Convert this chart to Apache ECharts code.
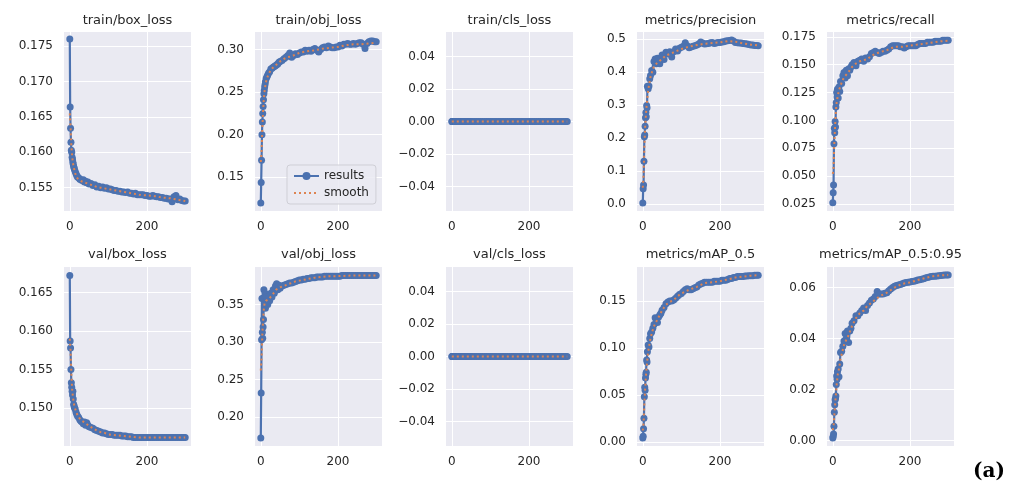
<!DOCTYPE html>
<html><head><meta charset="utf-8">
<script src="https://cdn.jsdelivr.net/npm/echarts@6/dist/echarts.min.js"></script>
<style>html,body{margin:0;padding:0;background:#fff}#c{width:1016px;height:489px}</style>
</head><body><div id="c"></div>
<script>
// ---------- data ----------
const EPOCHS = [0,1,2,3,4,5,6,7,8,9,10,11,12,14,16,18,20,23,26,29,32,35,38,41,44,47,50,55,60,65,70,75,80,85,90,95,100,
 105,110,115,120,125,130,135,140,145,150,155,160,165,170,175,180,185,190,195,200,
 205,210,215,220,225,230,235,240,245,250,255,260,265,270,275,280,285,290,295,299];
const SMOOTH_EPOCHS = [0,2,4,6,8,10,13,16,20,25,30,40,50,60,70,80,90,100,120,140,160,180,200,220,240,260,280,299];

const TRAIN_BOX = [0.1760,0.1664,0.1634,0.1614,0.1603,0.1600,0.1593,0.1590,0.1586,0.1583,0.1580,0.1578,0.1576,
 0.1573,0.1570,0.1567,0.1565,
 0.1564,0.1562,0.1561,0.1560,0.1561,0.1558,0.1559,0.1557,0.1558,0.1555,
 0.1556,0.1553,0.1554,0.1551,0.1552,0.1550,0.1551,0.1549,0.1550,0.1548,
 0.1548,0.1547,0.1546,0.1546,0.1545,0.1545,0.1544,0.1544,0.1543,0.1544,0.1542,0.1542,0.1541,0.1542,0.1540,0.1540,0.1540,0.1540,0.1539,0.1539,
 0.1538,0.1538,0.1539,0.1538,0.1537,0.1537,0.1536,0.1536,0.1535,0.1535,0.1534,0.1534,0.1530,0.1537,0.1539,0.1533,0.1534,0.1532,0.1531,0.1531];
const TRAIN_BOX_SMOOTH = [0.1655,0.1635,0.1610,0.1595,0.1585,0.1580,0.1572,0.1567,0.1563,0.1561,0.1559,0.1557,0.1555,0.1553,0.1551,0.1550,0.1549,0.1548,0.1546,0.1544,0.1542,0.1540,0.1539,0.1538,0.1536,0.1535,0.1533,0.1531];

const TRAIN_OBJ = [0.120,0.144,0.170,0.200,0.215,0.225,0.233,0.241,0.248,0.252,0.256,0.259,0.262,
 0.266,0.268,0.270,0.272,
 0.274,0.277,0.278,0.279,0.280,0.281,0.282,0.283,0.285,0.286,
 0.287,0.289,0.291,0.293,0.296,0.291,0.293,0.295,0.294,0.296,
 0.297,0.297,0.299,0.298,0.299,0.298,0.300,0.301,0.299,0.297,0.300,0.302,0.303,0.302,0.304,0.303,0.302,0.302,0.303,0.303,
 0.305,0.304,0.306,0.306,0.307,0.306,0.306,0.307,0.306,0.307,0.308,0.308,0.306,0.301,0.307,0.309,0.310,0.310,0.309,0.309];
const TRAIN_OBJ_SMOOTH = [0.168,0.180,0.207,0.228,0.243,0.252,0.261,0.266,0.271,0.275,0.278,0.282,0.286,0.289,0.291,0.292,0.294,0.296,0.298,0.299,0.301,0.302,0.303,0.305,0.306,0.306,0.307,0.308];

const TRAIN_CLS = [0,0,0,0,0,0,0,0,0,0,0,0,0,0,0,0,0,0,0,0,0,0,0,0,0,0,0,0,0,0,0,0,0,0,0,0,0,
 0,0,0,0,0,0,0,0,0,0,0,0,0,0,0,0,0,0,0,0,0,0,0,0,0,0,0,0,0,0,0,0,0,0,0,0,0,0,0,0];
const TRAIN_CLS_SMOOTH = [0,0,0,0,0,0,0,0,0,0,0,0,0,0,0,0,0,0,0,0,0,0,0,0,0,0,0,0];

const PRECISION = [0.004,0.047,0.058,0.130,0.204,0.210,0.236,0.262,0.278,0.265,0.299,0.292,0.357,
 0.350,0.358,0.380,0.390,
 0.405,0.400,0.432,0.440,0.425,0.442,0.430,0.425,0.440,0.452,
 0.438,0.460,0.455,0.462,0.446,0.462,0.470,0.464,0.472,0.475,
 0.478,0.489,0.480,0.474,0.476,0.478,0.480,0.482,0.485,0.491,0.488,0.485,0.486,0.487,0.489,0.490,0.487,0.488,0.490,0.490,
 0.491,0.492,0.494,0.495,0.496,0.497,0.494,0.490,0.489,0.488,0.488,0.487,0.486,0.485,0.484,0.482,0.482,0.481,0.481,0.480];
const PRECISION_SMOOTH = [0.050,0.085,0.170,0.230,0.270,0.300,0.335,0.360,0.385,0.405,0.420,0.430,0.440,0.450,0.455,0.460,0.465,0.470,0.477,0.482,0.486,0.488,0.490,0.494,0.492,0.487,0.483,0.481];

const RECALL = [0.026,0.035,0.042,0.079,0.093,0.089,0.099,0.094,0.112,0.116,0.125,0.121,0.128,
 0.120,0.130,0.126,0.135,
 0.133,0.140,0.143,0.138,0.145,0.140,0.146,0.145,0.148,0.150,
 0.152,0.149,0.153,0.154,0.155,0.153,0.156,0.155,0.157,0.160,
 0.161,0.162,0.161,0.160,0.161,0.162,0.162,0.163,0.164,0.166,0.167,0.167,0.167,0.167,0.166,0.166,0.165,0.166,0.167,0.167,
 0.167,0.167,0.167,0.168,0.169,0.169,0.169,0.169,0.170,0.170,0.170,0.170,0.171,0.171,0.171,0.171,0.172,0.172,0.172,0.172];
const RECALL_SMOOTH = [0.052,0.057,0.080,0.095,0.108,0.116,0.122,0.127,0.131,0.136,0.139,0.143,0.148,0.151,0.153,0.154,0.155,0.158,0.161,0.163,0.166,0.166,0.167,0.168,0.169,0.170,0.171,0.1715];

const VAL_BOX = [0.1672,0.1587,0.1578,0.1550,0.1533,0.1527,0.1522,0.1517,0.1522,0.1512,0.1505,0.1503,0.1501,
 0.1499,0.1495,0.1492,0.1490,
 0.1488,0.1485,0.1483,0.1482,0.1480,0.1482,0.1478,0.1481,0.1478,0.1476,
 0.1475,0.1474,0.1472,0.1471,0.1470,0.1469,0.1468,0.1468,0.1467,0.1466,
 0.1466,0.1466,0.1465,0.1465,0.1465,0.1465,0.1464,0.1464,0.1464,0.1463,0.1463,0.1463,0.1462,0.1462,0.1462,0.1462,0.1462,0.1462,0.1462,0.1462,
 0.1462,0.1462,0.1462,0.1462,0.1462,0.1462,0.1462,0.1462,0.1462,0.1462,0.1462,0.1462,0.1462,0.1462,0.1462,0.1462,0.1462,0.1462,0.1462,0.1462];
const VAL_BOX_SMOOTH = [0.1590,0.1575,0.1545,0.1525,0.1515,0.1507,0.1501,0.1496,0.1491,0.1487,0.1484,0.1481,0.1477,0.1474,0.1471,0.1469,0.1468,0.1466,0.1465,0.1464,0.1463,0.1462,0.1462,0.1462,0.1462,0.1462,0.1462,0.1462];

const VAL_OBJ = [0.172,0.232,0.303,0.358,0.313,0.305,0.320,0.330,0.370,0.360,0.350,0.365,0.345,
 0.360,0.355,0.350,0.360,
 0.355,0.365,0.360,0.370,0.365,0.375,0.378,0.370,0.376,0.372,
 0.375,0.376,0.377,0.378,0.379,0.379,0.380,0.381,0.382,0.383,
 0.383,0.384,0.384,0.385,0.385,0.386,0.386,0.386,0.387,0.387,0.387,0.387,0.388,0.388,0.388,0.388,0.388,0.388,0.388,0.388,
 0.388,0.389,0.389,0.389,0.389,0.389,0.389,0.389,0.389,0.389,0.389,0.389,0.389,0.389,0.389,0.389,0.389,0.389,0.389,0.389];
const VAL_OBJ_SMOOTH = [0.262,0.280,0.310,0.330,0.345,0.352,0.355,0.356,0.357,0.360,0.363,0.370,0.373,0.375,0.377,0.379,0.381,0.382,0.384,0.386,0.387,0.388,0.388,0.3885,0.389,0.389,0.389,0.389];

const VAL_CLS = [0,0,0,0,0,0,0,0,0,0,0,0,0,0,0,0,0,0,0,0,0,0,0,0,0,0,0,0,0,0,0,0,0,0,0,0,0,
 0,0,0,0,0,0,0,0,0,0,0,0,0,0,0,0,0,0,0,0,0,0,0,0,0,0,0,0,0,0,0,0,0,0,0,0,0,0,0,0];
const VAL_CLS_SMOOTH = [0,0,0,0,0,0,0,0,0,0,0,0,0,0,0,0,0,0,0,0,0,0,0,0,0,0,0,0];

const MAP50 = [0.004,0.006,0.014,0.025,0.048,0.058,0.055,0.068,0.072,0.074,0.087,0.085,0.096,
 0.103,0.101,0.110,0.115,
 0.117,0.121,0.125,0.132,0.130,0.127,0.133,0.135,0.137,0.140,
 0.143,0.147,0.149,0.150,0.150,0.151,0.153,0.155,0.157,0.158,
 0.160,0.162,0.163,0.162,0.162,0.163,0.164,0.165,0.167,0.168,0.169,0.170,0.170,0.170,0.170,0.170,0.171,0.171,0.171,0.171,
 0.172,0.172,0.172,0.173,0.174,0.174,0.175,0.175,0.176,0.176,0.176,0.176,0.1765,0.1765,0.177,0.177,0.177,0.1775,0.1775,0.1775];
const MAP50_SMOOTH = [0.012,0.020,0.040,0.056,0.069,0.080,0.093,0.101,0.110,0.118,0.124,0.132,0.140,0.146,0.149,0.151,0.155,0.158,0.162,0.165,0.169,0.170,0.171,0.173,0.175,0.176,0.177,0.1775];

const MAP5095 = [0.0009,0.0015,0.0025,0.0056,0.0111,0.0140,0.0160,0.0165,0.0174,0.0220,0.0253,0.0240,0.0270,
 0.0280,0.0250,0.0300,0.0345,
 0.0350,0.0370,0.0390,0.0420,0.0400,0.0430,0.0384,0.0430,0.0440,0.0460,
 0.0470,0.0490,0.0490,0.0500,0.0510,0.0520,0.0510,0.0530,0.0540,0.0550,
 0.0555,0.0565,0.0585,0.0575,0.0575,0.0575,0.0578,0.0580,0.0588,0.0595,0.0600,0.0605,0.0608,0.0610,0.0612,0.0615,0.0618,0.0620,0.0621,0.0622,
 0.0624,0.0625,0.0627,0.0630,0.0631,0.0633,0.0635,0.0638,0.0640,0.0642,0.0644,0.0645,0.0645,0.0646,0.0647,0.0648,0.0649,0.0650,0.0650,0.0650];
const MAP5095_SMOOTH = [0.004,0.006,0.010,0.014,0.018,0.022,0.026,0.028,0.032,0.035,0.038,0.041,0.045,0.048,0.050,0.051,0.053,0.054,0.0565,0.058,0.060,0.0615,0.062,0.063,0.0638,0.0645,0.0648,0.065];

const TITLES = ['train/box_loss','train/obj_loss','train/cls_loss','metrics/precision','metrics/recall',
                'val/box_loss','val/obj_loss','val/cls_loss','metrics/mAP_0.5','metrics/mAP_0.5:0.95'];
const X_TICKS = [0, 200];
const Y_TICKS = [
  [0.155,0.160,0.165,0.170,0.175],
  [0.15,0.20,0.25,0.30],
  [-0.04,-0.02,0,0.02,0.04],
  [0,0.1,0.2,0.3,0.4,0.5],
  [0.025,0.050,0.075,0.100,0.125,0.150,0.175],
  [0.150,0.155,0.160,0.165],
  [0.20,0.25,0.30,0.35],
  [-0.04,-0.02,0,0.02,0.04],
  [0,0.05,0.10,0.15],
  [0,0.02,0.04,0.06]
];
const Y_DEC = [3,2,2,1,3,3,2,2,2,2];
const RESULTS = [TRAIN_BOX,TRAIN_OBJ,TRAIN_CLS,PRECISION,RECALL,VAL_BOX,VAL_OBJ,VAL_CLS,MAP50,MAP5095];
const SMOOTHS = [TRAIN_BOX_SMOOTH,TRAIN_OBJ_SMOOTH,TRAIN_CLS_SMOOTH,PRECISION_SMOOTH,RECALL_SMOOTH,VAL_BOX_SMOOTH,VAL_OBJ_SMOOTH,VAL_CLS_SMOOTH,MAP50_SMOOTH,MAP5095_SMOOTH];

// ---------- layout / style ----------
const Y_LIM = [[0.1517,0.1770],[0.1105,0.3205],[-0.055,0.055],[-0.0205,0.5215],[0.0187,0.1793],
               [0.1451,0.1683],[0.1613,0.4002],[-0.055,0.055],[-0.0045,0.1862],[-0.0022,0.0681]];
const COL_LEFT = [64,255,446,637,827], ROW_TOP = [32,267], W = 127, H = 179;
const BLUE = '#4C72B0', ORANGE = '#DD8452', TXT = '#262626', FONT = 'DejaVu Sans';

const grids=[], xAxes=[], yAxes=[], series=[], graphics=[];
for (let i=0;i<10;i++){
  const c=i%5, r=Math.floor(i/5);
  grids.push({left:COL_LEFT[c], top:ROW_TOP[r], width:W, height:H, show:true, backgroundColor:'#EAEAF2', borderWidth:0});
  xAxes.push({type:'value', gridIndex:i, min:-15, max:314,
    axisLine:{show:false},
    axisTick:{show:false, customValues:X_TICKS},
    axisLabel:{customValues:X_TICKS, color:TXT, fontFamily:FONT, fontSize:12, margin:10},
    splitLine:{show:true, lineStyle:{color:'#ffffff', width:1}}});
  const dec=Y_DEC[i];
  yAxes.push({type:'value', gridIndex:i, min:Y_LIM[i][0], max:Y_LIM[i][1],
    axisLine:{show:false},
    axisTick:{show:false, customValues:Y_TICKS[i]},
    axisLabel:{customValues:Y_TICKS[i], color:TXT, fontFamily:FONT, fontSize:12, margin:11,
      formatter:v=>Number(v).toFixed(dec).replace('-','\u2212')},
    splitLine:{show:true, lineStyle:{color:'#ffffff', width:1}}});
  series.push({name:'results', type:'line', xAxisIndex:i, yAxisIndex:i,
    data:EPOCHS.map((e,k)=>[e,RESULTS[i][k]]),
    symbol:'circle', symbolSize:7, showSymbol:true, animation:false,
    lineStyle:{color:BLUE, width:2.2}, itemStyle:{color:BLUE}, z:2});
  series.push({name:'smooth', type:'line', xAxisIndex:i, yAxisIndex:i,
    data:SMOOTH_EPOCHS.map((e,k)=>[e,SMOOTHS[i][k]]),
    showSymbol:false, symbol:'none', animation:false,
    lineStyle:{color:ORANGE, width:2, type:[2,3]}, itemStyle:{color:ORANGE}, z:3});
  graphics.push({type:'text', x:COL_LEFT[c]+W/2, y: r===0 ? 20.5 : 255,
    style:{text:TITLES[i], fill:TXT, font:'13px "DejaVu Sans"', textAlign:'center', textVerticalAlign:'middle'}});
}
graphics.push({type:'text', x:989, y:472,
  style:{text:'(a)', fill:'#000', font:'bold 20px "DejaVu Serif"', textAlign:'center', textVerticalAlign:'middle'}});

const chart = echarts.init(document.getElementById('c'), null, {renderer:'canvas'});
chart.setOption({
  animation:false,
  backgroundColor:'#ffffff',
  grid:grids, xAxis:xAxes, yAxis:yAxes, series:series, graphic:graphics,
  legend:{data:['results',{name:'smooth', itemStyle:{opacity:0}}], orient:'vertical', left:287, top:165,
    padding:[5,7,5,6], itemGap:5, itemWidth:25, itemHeight:10,
    backgroundColor:'rgba(234,234,242,0.85)', borderColor:'#cfcfd6', borderWidth:1, borderRadius:3,
    textStyle:{color:TXT, fontFamily:FONT, fontSize:12}}
});
</script></body></html>
